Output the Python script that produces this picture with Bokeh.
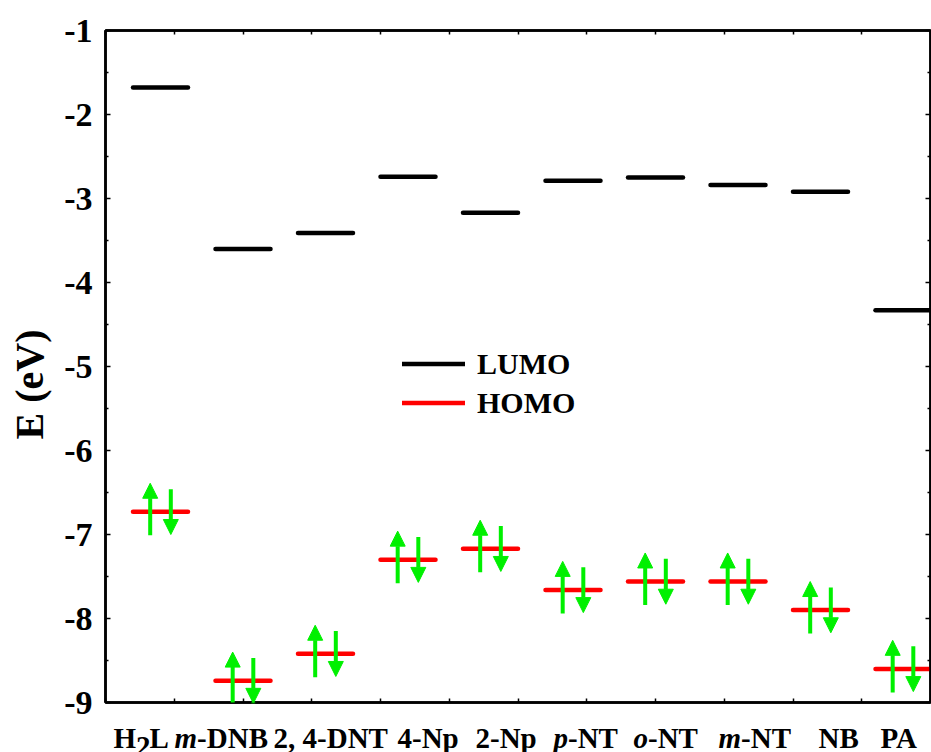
from bokeh.plotting import figure
from bokeh.layouts import row, column
from bokeh.models import (Range1d, FixedTicker, LinearAxis, Arrow, NormalHead,
                          ColumnDataSource, Legend, LegendItem)
from bokeh.core.properties import value
from bokeh.embed import file_html
from bokeh.resources import INLINE

# Frontier orbital energies (eV) of the probe and the nitro-aromatic analytes
molecules = ["H2L", "m-DNB", "2, 4-DNT", "4-Np", "2-Np", "p-NT", "o-NT", "m-NT", "NB", "PA"]
lumo = [-1.68, -3.60, -3.41, -2.74, -3.17, -2.79, -2.75, -2.84, -2.92, -4.33]
homo = [-6.73, -8.74, -8.42, -7.30, -7.17, -7.66, -7.56, -7.56, -7.90, -8.60]
y_ticks = [-9, -8, -7, -6, -5, -4, -3, -2, -1]

# layout: level centres and label left edges along the 0..12 x scale
x_pos = [0.8, 2.0, 3.2, 4.4, 5.6, 6.8, 8.0, 9.2, 10.4, 11.6]
label_left = [0.116, 1.004, 2.444, 4.247, 5.382, 6.516, 7.68, 8.916, 10.371, 11.273]

FONT = "Liberation Serif"
GREEN = "#00f000"
HALF = 0.4          # half length of an energy level
SPIN_DX = 0.15      # horizontal offset of the spin arrows

p = figure(width=876, height=716, x_range=Range1d(0, 12), y_range=Range1d(-9, -1),
           output_backend="svg", toolbar_location=None,
           min_border_left=50, min_border_right=1, min_border_top=30, min_border_bottom=14)
p.grid.visible = False
p.outline_line_color = "black"
p.outline_line_width = 2.5

# y axes (left labelled, right ticks only)
ymin = [t + 0.5 for t in y_ticks[:-1]]
yl = p.yaxis[0]
yl.ticker = FixedTicker(ticks=y_ticks, minor_ticks=ymin)
yl.major_label_overrides = {t: f"-{abs(t)}" for t in y_ticks}
yl.major_label_text_font = FONT
yl.major_label_text_font_style = "bold"
yl.major_label_text_font_size = "34px"
yl.major_label_text_color = "black"
yl.major_label_standoff = 13
yl.axis_line_width = 2.5
yl.major_tick_in, yl.major_tick_out = 5, 0
yl.minor_tick_in, yl.minor_tick_out = 3, 0
yl.major_tick_line_width = 1.5
yl.minor_tick_line_width = 1.5

yr = LinearAxis(ticker=FixedTicker(ticks=y_ticks, minor_ticks=ymin),
                major_label_text_font_size="0px", major_label_standoff=0,
                axis_line_width=2.5, major_tick_in=5, major_tick_out=0,
                minor_tick_in=3, minor_tick_out=0,
                major_tick_line_width=1.5, minor_tick_line_width=1.5)
p.add_layout(yr, "right")

# x axes: plain tick marks, names drawn in the strip below
xt = list(range(0, 13))
xb = p.xaxis[0]
xb.ticker = FixedTicker(ticks=xt, minor_ticks=[])
xb.major_label_text_font_size = "0px"
xb.major_label_standoff = 0
xb.axis_line_width = 2.5
xb.major_tick_in, xb.major_tick_out = 4, 0
xb.major_tick_line_width = 1.5
xa = LinearAxis(ticker=FixedTicker(ticks=xt, minor_ticks=[]),
                major_label_text_font_size="0px", major_label_standoff=0,
                axis_line_width=2.5, major_tick_in=4, major_tick_out=0,
                major_tick_line_width=1.5)
p.add_layout(xa, "above")

# energy levels
src = ColumnDataSource(dict(
    x0=[x - HALF for x in x_pos], x1=[x + HALF for x in x_pos],
    lumo=lumo, homo=homo))
lumo_r = p.segment(x0="x0", y0="lumo", x1="x1", y1="lumo", source=src,
                   line_color="black", line_width=4.5, line_cap="round")
homo_r = p.segment(x0="x0", y0="homo", x1="x1", y1="homo", source=src,
                   line_color="red", line_width=4.5, line_cap="round")

# paired electrons on the HOMO
up = ColumnDataSource(dict(x=[x - SPIN_DX for x in x_pos],
                           y0=[h - 0.28 for h in homo], y1=[h + 0.34 for h in homo]))
down = ColumnDataSource(dict(x=[x + SPIN_DX for x in x_pos],
                             y0=[h + 0.27 for h in homo], y1=[h - 0.27 for h in homo]))
for s in (up, down):
    p.add_layout(Arrow(end=NormalHead(size=15, fill_color=GREEN, line_color=GREEN, line_width=1),
                       x_start="x", y_start="y0", x_end="x", y_end="y1", source=s,
                       line_color=GREEN, line_width=4))

legend = Legend(items=[LegendItem(label="LUMO", renderers=[lumo_r]),
                       LegendItem(label="HOMO", renderers=[homo_r])],
                location=(297, 280), padding=0, margin=0, spacing=0,
                glyph_width=63, glyph_height=39, label_height=39, label_standoff=12,
                label_text_font=FONT, label_text_font_style="bold",
                label_text_font_size="30px", label_text_baseline="middle",
                label_text_color="black",
                background_fill_alpha=0, border_line_alpha=0)
p.add_layout(legend)


def strip(width, height, x_range, y_range, border_left=0, border_right=0):
    f = figure(width=width, height=height, x_range=x_range, y_range=y_range,
               output_backend="svg", toolbar_location=None,
               x_axis_type=None, y_axis_type=None,
               min_border_left=border_left, min_border_right=border_right,
               min_border_top=0, min_border_bottom=0)
    f.grid.visible = False
    f.outline_line_color = None
    return f


# y-axis title column (pixel coordinates, y downwards)
ytitle = strip(55, 752, Range1d(0, 55), Range1d(752, 0))
ytitle.text(x=[29], y=[384], text=["E (eV)"], angle=1.5707963,
            text_font=value(FONT), text_font_style="bold", text_font_size="40px",
            text_align="center", text_baseline="middle", text_color="black")

# category names (italic locants, subscript digit) below the frame
names = strip(876, 36, p.x_range, Range1d(36, 0), border_left=50, border_right=1)
BOLD_W = {" ": 250, ",": 250, "-": 333, "2": 500, "4": 500, "A": 722, "B": 667,
          "D": 722, "H": 778, "L": 667, "N": 722, "P": 611, "T": 667, "p": 556}
BOLD_ITALIC_W = {"m": 778, "p": 500, "o": 500}
LABEL_SIZE = 29
pieces = {
    "H2L": [("H", "n"), ("2", "sub"), ("L", "n")],
    "m-DNB": [("m", "i"), ("-DNB", "n")],
    "p-NT": [("p", "i"), ("-NT", "n")],
    "o-NT": [("o", "i"), ("-NT", "n")],
    "m-NT": [("m", "i"), ("-NT", "n")],
}
rows = {"n": dict(x=[], y=[], text=[], xo=[]), "i": dict(x=[], y=[], text=[], xo=[])}
for name, left in zip(molecules, label_left):
    dx = 0.0
    for text, kind in pieces.get(name, [(name, "n")]):
        key = "i" if kind == "i" else "n"
        r = rows[key]
        r["x"].append(left)
        r["y"].append(29.5 if kind == "sub" else 21)
        r["text"].append(text)
        r["xo"].append(dx)
        table = BOLD_ITALIC_W if key == "i" else BOLD_W
        dx += sum(table[c] for c in text) * LABEL_SIZE / 1000 - (1 if kind == "sub" else 0)
for key, style in (("n", "bold"), ("i", "bold italic")):
    names.text(x="x", y="y", text="text", x_offset="xo", source=ColumnDataSource(rows[key]),
               text_font=value(FONT), text_font_style=style,
               text_font_size=f"{LABEL_SIZE}px", text_align="left",
               text_baseline="alphabetic", text_color="black")

layout = row(ytitle, column(p, names))
open("out.html", "w").write(file_html(layout, INLINE))
